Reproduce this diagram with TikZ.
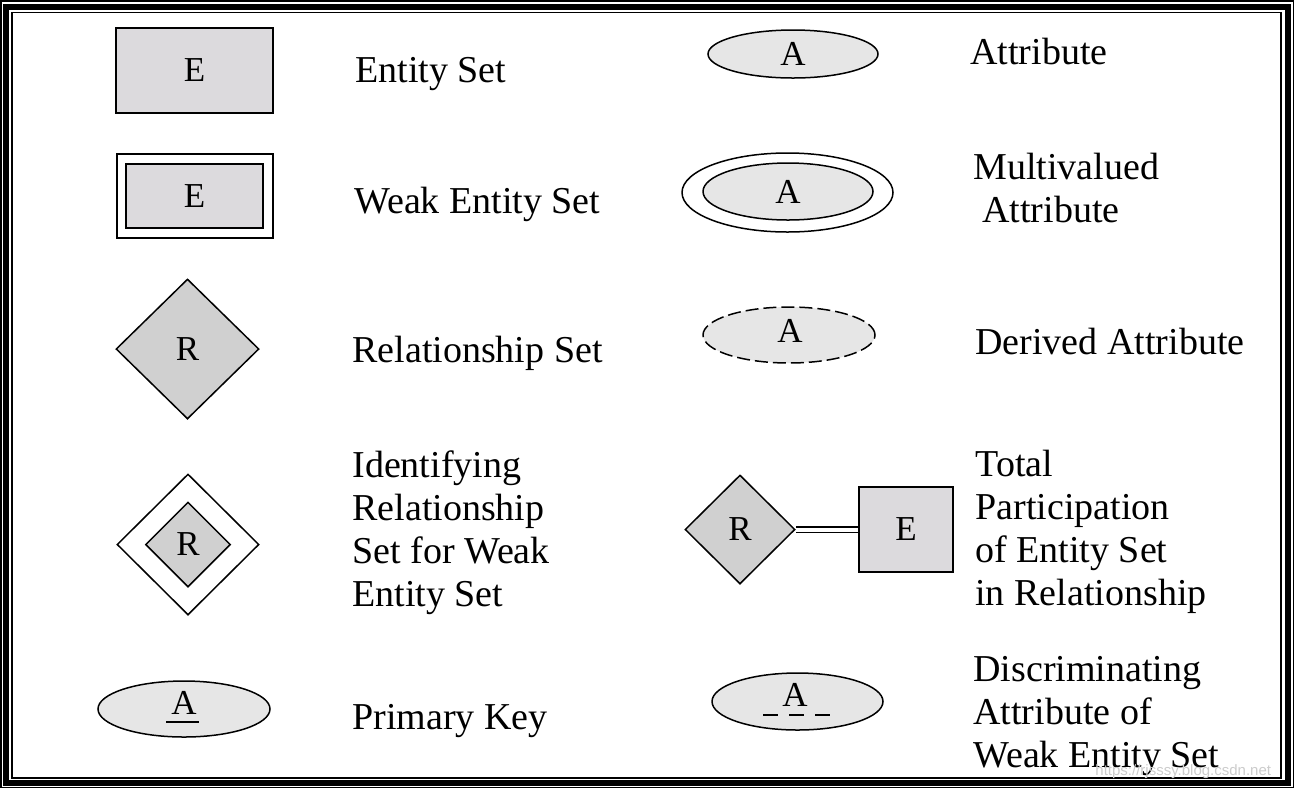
\documentclass[tikz,border=0pt]{standalone}
\usepackage{fontspec}
\setmainfont{Liberation Serif}
\setsansfont{Liberation Sans}
\usetikzlibrary{shapes.geometric}
\definecolor{entfill}{HTML}{DCDADD}
\definecolor{relfill}{HTML}{D0D0D0}
\definecolor{attfill}{HTML}{E6E6E6}
\begin{document}
\begin{tikzpicture}[x=0.5pt,y=-0.5pt,
  lbl/.style={anchor=base west, inner sep=0pt, align=left, font=\fontsize{19}{21.5}\selectfont},
  letter/.style={inner sep=0pt, font=\fontsize{17.5}{20}\selectfont},
  ent/.style={draw, line width=0.9pt, fill=entfill, inner sep=0pt, font=\fontsize{17.5}{20}\selectfont},
  frame/.style={draw, line width=0.9pt, fill=white, inner sep=0pt},
  rel/.style={diamond, draw, line width=0.75pt, fill=relfill, inner sep=0pt, font=\fontsize{17.5}{20}\selectfont},
  relframe/.style={diamond, draw, line width=0.75pt, fill=white, inner sep=0pt},
  att/.style={ellipse, draw, line width=0.75pt, fill=attfill, inner sep=0pt, font=\fontsize{17.5}{20}\selectfont},
  attframe/.style={ellipse, draw, line width=0.75pt, fill=white, inner sep=0pt},
]
\useasboundingbox (0,0) rectangle (1295,789);
% border
\draw[line width=0.8pt] (1,1) rectangle (1293.5,787.5);
\draw[line width=3pt] (6,6.5) rectangle (1287.5,782.5);
\draw[line width=0.8pt] (12,12.5) rectangle (1281,778);

% ---- left column ----
\node[ent, minimum width=78.5pt, minimum height=42.5pt] (es) at (194.5,70.5) {E};
\node[lbl] (esl) at (355,82) {Entity Set};

\node[frame, minimum width=78pt, minimum height=42pt] (weo) at (195,196) {};
\node[ent, minimum width=68.5pt, minimum height=32pt] (wei) at (194.5,196) {E};
\node[lbl] (wel) at (354,213) {Weak Entity Set};

\node[rel, minimum width=71.5pt, minimum height=70pt] (rs) at (187.5,349) {R};
\node[lbl] (rsl) at (352,362) {Relationship Set};

\node[relframe, minimum width=71pt, minimum height=70.5pt] (iro) at (188,544.5) {};
\node[rel, minimum width=42.5pt, minimum height=42.5pt] (iri) at (188,544.5) {R};
\node[lbl] (irl) at (352,606) {Identifying\\Relationship\\Set for Weak\\Entity Set};

\node[att, minimum width=86pt, minimum height=28pt] (pk) at (184,709) {};
\node[letter] (pkA) at (184,703) {A};
\draw[line width=0.7pt] ([shift={(-18,19)}]pkA.center) -- ([shift={(15,19)}]pkA.center);
\node[lbl] (pkl) at (352,729) {Primary Key};

% ---- right column ----
\node[att, minimum width=85pt, minimum height=24pt] (at) at (793,54) {A};
\node[lbl] (atl) at (970,64) {Attribute};

\node[attframe, minimum width=105.5pt, minimum height=39.5pt] (mvo) at (787.5,192.5) {};
\node[att, minimum width=85pt, minimum height=28.5pt] (mvi) at (788,191.5) {A};
\node[lbl] (mvl) at (973,222) {Multivalued\\\hspace*{4.5pt}Attribute};

\node[att, dash pattern=on 6.5pt off 2.5pt, minimum width=86pt, minimum height=28pt] (da) at (789,335) {};
\node[letter] (daA) at (790,331) {A};
\node[lbl] (dal) at (975,354) {Derived Attribute};

\node[rel, minimum width=55pt, minimum height=54.5pt] (tr) at (740,529.5) {R};
\node[ent, minimum width=47pt, minimum height=42.5pt] (te) at (906,529.5) {E};
\draw[double, double distance=2pt, line width=0.75pt] (tr.east) -- (te.west);
\node[lbl] (tpl) at (975,605) {Total\\Participation\\of Entity Set\\in Relationship};

\node[att, minimum width=85.5pt, minimum height=28.5pt] (dk) at (797.5,701.5) {};
\node[letter] (dkA) at (795,695) {A};
\draw[line width=0.7pt, dash pattern=on 7.5pt off 5.5pt] ([shift={(-32,20)}]dkA.center) -- ([shift={(35,20)}]dkA.center);
\node[lbl] (dkl) at (973,767) {Discriminating\\Attribute of\\Weak Entity Set};

% watermark
\node[anchor=base west, inner sep=0pt, text=gray!40, font=\sffamily\fontsize{7.5}{9}\selectfont] (wm) at (1095,775) {https://rjsssy.blog.csdn.net};
\end{tikzpicture}
\end{document}
